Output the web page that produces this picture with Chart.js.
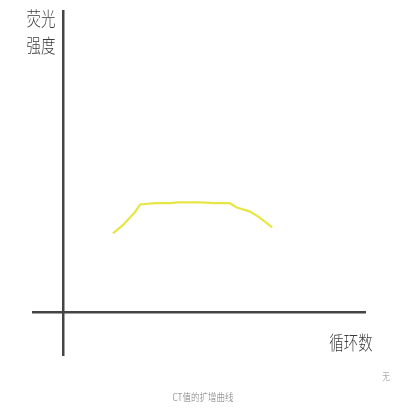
<!DOCTYPE html>
<html>
<head>
<meta charset="utf-8">
<script src="https://cdn.jsdelivr.net/npm/chart.js@4"></script>
<style>
    html, body { margin: 0; padding: 0; background: #fff; }
    #wrap { width: 420px; height: 420px; }
</style>
</head>
<body>
<div id="wrap"><canvas id="ctChart"></canvas></div>
<script>
// Amplification curve (cycle, fluorescence)
const cycles = [6.6, 7.9, 9.5, 10.2, 12.2, 14.2, 15.2, 18.1, 20.1, 22.1, 23.0, 24.7, 26.0, 27.7];
const fluorescence = [18.3, 20.2, 23.2, 25.0, 25.3, 25.3, 25.5, 25.5, 25.3, 25.3, 24.3, 23.4, 22.0, 19.7];

const yTitle = ['荧光', '强度'];
const xTitle = '循环数';
const caption = 'CT值的扩增曲线';
const cornerMark = '无';

const CJK = '"Noto Sans CJK SC", "Noto Sans", sans-serif';

// draw text squeezed horizontally, like the scanned sketch
function squeezedText(ctx, text, x, y, size, color, sx) {
    ctx.save();
    ctx.font = `300 ${size}px ${CJK}`;
    ctx.fillStyle = color;
    ctx.textAlign = 'center';
    ctx.textBaseline = 'middle';
    ctx.translate(x, y);
    ctx.scale(sx, 1);
    ctx.fillText(text, 0, 0);
    ctx.restore();
}

const labelsPlugin = {
    id: 'sketchLabels',
    afterDraw(chart) {
        const ctx = chart.ctx;
        squeezedText(ctx, yTitle[0], 41, 19, 19, '#3c3c3c', 0.76);
        squeezedText(ctx, yTitle[1], 41, 46, 19, '#3c3c3c', 0.76);
        squeezedText(ctx, xTitle, 351, 343, 19, '#3c3c3c', 0.76);
        squeezedText(ctx, cornerMark, 386, 377, 9, '#888', 0.85);
        squeezedText(ctx, caption, 203, 397, 10, '#777', 0.85);
    }
};

const ctx = document.getElementById('ctChart').getContext('2d');
new Chart(ctx, {
    type: 'line',
    data: {
        datasets: [{
            data: cycles.map((c, i) => ({ x: c, y: fluorescence[i] })),
            borderColor: '#e6e646',
            borderWidth: 2.2,
            pointRadius: 0,
            tension: 0,
            fill: false
        }]
    },
    options: {
        responsive: true,
        maintainAspectRatio: false,
        animation: false,
        layout: { padding: { left: 33, right: 55, top: 11, bottom: 65 } },
        plugins: {
            legend: { display: false },
            tooltip: { enabled: false }
        },
        scales: {
            x: {
                type: 'linear',
                min: -4,
                max: 40,
                position: { y: 0 },
                grid: { display: false },
                ticks: { display: false },
                border: { display: true, color: '#444', width: 2.5 }
            },
            y: {
                type: 'linear',
                min: -10,
                max: 70,
                position: { x: 0 },
                grid: { display: false },
                ticks: { display: false },
                border: { display: true, color: '#444', width: 2.5 }
            }
        }
    },
    plugins: [labelsPlugin]
});
</script>
</body>
</html>
